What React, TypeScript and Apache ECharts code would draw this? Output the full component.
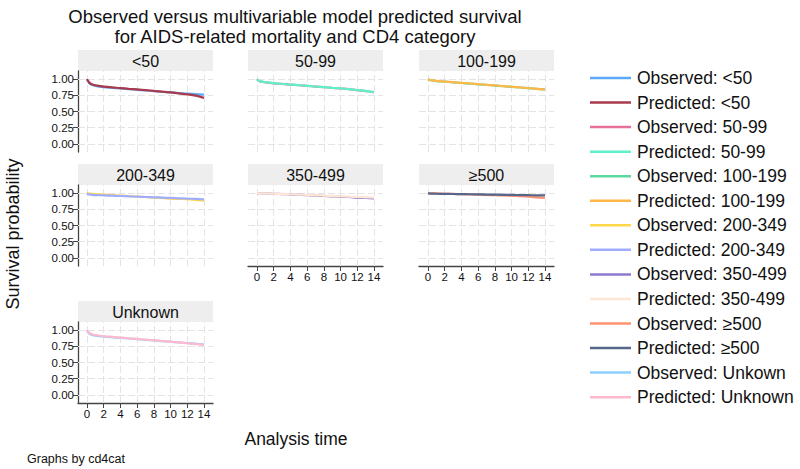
import React, { useEffect, useRef } from "react";
import * as echarts from "echarts";

// Analysis time points (years) at which survival is plotted
const times = [0, 0.1, 0.25, 0.5, 1, 2, 3, 4, 5, 6, 7, 8, 9, 10, 11, 12, 13, 14];

// CD4 categories, one panel each
const categories = ["<50", "50-99", "100-199", "200-349", "350-499", "≥500", "Unknown"];

// Observed (Kaplan-Meier) survival per category
const observedLt50 = [1, 0.97, 0.94, 0.915, 0.895, 0.875, 0.865, 0.855, 0.845, 0.835, 0.825, 0.815, 0.805, 0.795, 0.785, 0.775, 0.768, 0.76];
const observed50to99 = [1, 0.985, 0.97, 0.96, 0.95, 0.935, 0.925, 0.915, 0.905, 0.895, 0.885, 0.875, 0.865, 0.855, 0.845, 0.83, 0.815, 0.8];
const observed100to199 = [1, 0.99, 0.985, 0.98, 0.97, 0.96, 0.95, 0.94, 0.93, 0.92, 0.91, 0.9, 0.89, 0.88, 0.87, 0.86, 0.85, 0.84];
const observed200to349 = [1, 0.998, 0.995, 0.99, 0.985, 0.975, 0.97, 0.96, 0.955, 0.945, 0.94, 0.93, 0.925, 0.915, 0.91, 0.905, 0.895, 0.885];
const observed350to499 = [1, 0.999, 0.998, 0.997, 0.995, 0.99, 0.985, 0.98, 0.975, 0.97, 0.96, 0.955, 0.95, 0.945, 0.94, 0.93, 0.925, 0.92];
const observedGe500 = [1, 0.999, 0.998, 0.997, 0.995, 0.99, 0.987, 0.983, 0.98, 0.976, 0.972, 0.968, 0.963, 0.958, 0.952, 0.945, 0.935, 0.925];
const observedUnknown = [1, 0.97, 0.95, 0.93, 0.915, 0.9, 0.89, 0.88, 0.87, 0.86, 0.85, 0.84, 0.83, 0.82, 0.81, 0.8, 0.79, 0.78];

// Multivariable model predicted survival per category
const predictedLt50 = [1, 0.975, 0.95, 0.925, 0.905, 0.885, 0.872, 0.862, 0.85, 0.84, 0.83, 0.818, 0.806, 0.794, 0.78, 0.765, 0.745, 0.71];
const predicted50to99 = [1, 0.985, 0.972, 0.962, 0.952, 0.937, 0.926, 0.916, 0.906, 0.896, 0.886, 0.876, 0.866, 0.856, 0.845, 0.832, 0.817, 0.795];
const predicted100to199 = [1, 0.992, 0.986, 0.98, 0.972, 0.962, 0.952, 0.942, 0.932, 0.922, 0.912, 0.902, 0.892, 0.882, 0.872, 0.861, 0.85, 0.838];
const predicted200to349 = [1, 0.985, 0.978, 0.975, 0.97, 0.965, 0.96, 0.955, 0.95, 0.945, 0.94, 0.935, 0.93, 0.925, 0.92, 0.915, 0.91, 0.905];
const predicted350to499 = [1, 0.999, 0.998, 0.997, 0.995, 0.991, 0.987, 0.982, 0.977, 0.972, 0.966, 0.961, 0.956, 0.951, 0.946, 0.94, 0.935, 0.93];
const predictedGe500 = [1, 0.995, 0.993, 0.992, 0.99, 0.988, 0.986, 0.984, 0.982, 0.98, 0.978, 0.976, 0.974, 0.972, 0.97, 0.968, 0.966, 0.964];
const predictedUnknown = [1, 0.975, 0.96, 0.94, 0.925, 0.905, 0.895, 0.885, 0.874, 0.864, 0.853, 0.843, 0.832, 0.821, 0.81, 0.798, 0.785, 0.77];

const observedSeries = [observedLt50, observed50to99, observed100to199, observed200to349, observed350to499, observedGe500, observedUnknown];
const predictedSeries = [predictedLt50, predicted50to99, predicted100to199, predicted200to349, predicted350to499, predictedGe500, predictedUnknown];

// Legend labels, as printed
const observedNames = ["Observed: <50", "Observed: 50-99", "Observed: 100-199", "Observed: 200-349", "Observed: 350-499", "Observed: ≥500", "Observed: Unkown"];
const predictedNames = ["Predicted: <50", "Predicted: 50-99", "Predicted: 100-199", "Predicted: 200-349", "Predicted: 350-499", "Predicted: ≥500", "Predicted: Unknown"];

const observedColors = ["#5ea8f8", "#e8709a", "#5cd8a0", "#ffd84a", "#8c78d0", "#ff9070", "#8ed0ff"];
const predictedColors = ["#a83a4c", "#5ef0c8", "#ffb848", "#a0acff", "#ffe6d4", "#56678a", "#ffb8cc"];

// Axis ticks
const yTicks = [0, 0.25, 0.5, 0.75, 1];
const xTicks = [0, 2, 4, 6, 8, 10, 12, 14];

const FONT = "'Liberation Sans', Arial, Helvetica, sans-serif";

// Panel layout: 3 columns, 3 rows
const colLeft = [78, 248, 419];
const rowTop = [71, 185, 322];
const panelW = 135;
const panelH = 81;
const stripH = 21;

export default function App() {
  const ref = useRef<HTMLDivElement>(null);

  useEffect(() => {
    if (!ref.current) return;
    const chart = echarts.init(ref.current, null, { renderer: "svg" });

    const grids: any[] = [];
    const xAxes: any[] = [];
    const yAxes: any[] = [];
    const series: any[] = [];
    const graphics: any[] = [];

    categories.forEach((cat, i) => {
      const col = i % 3;
      const row = Math.floor(i / 3);
      const left = colLeft[col];
      const top = rowTop[row];
      const showY = col === 0;
      // bottom-most panel in each column carries the time axis
      const showX = i >= 4;

      grids.push({ left, top, width: panelW, height: panelH, containLabel: false });

      xAxes.push({
        type: "value",
        gridIndex: i,
        min: -1.08,
        max: 15.08,
        axisLine: { show: showX, onZero: false, lineStyle: { color: "#444", width: 1.3 } },
        axisTick: { show: showX, customValues: xTicks, length: 5, lineStyle: { color: "#444", width: 1 } },
        axisLabel: {
          show: showX,
          customValues: xTicks,
          color: "#111",
          fontFamily: FONT,
          fontSize: 11.5,
          margin: 5,
        },
        splitLine: { show: false },
      });

      yAxes.push({
        type: "value",
        gridIndex: i,
        min: -0.125,
        max: 1.125,
        axisLine: { show: showY, onZero: false, lineStyle: { color: "#444", width: 1.3 } },
        axisTick: { show: showY, customValues: yTicks, length: 5, lineStyle: { color: "#444", width: 1 } },
        axisLabel: {
          show: showY,
          customValues: yTicks,
          formatter: (v: number) => v.toFixed(2),
          color: "#111",
          fontFamily: FONT,
          fontSize: 11.5,
          margin: 4,
        },
        splitLine: { show: false },
      });

      // light dashed reference grid
      series.push({
        type: "line",
        name: "grid" + i,
        xAxisIndex: i,
        yAxisIndex: i,
        data: [],
        silent: true,
        z: 1,
        markLine: {
          silent: true,
          symbol: "none",
          z: 1,
          label: { show: false },
          lineStyle: { color: "#e4e4e4", width: 1, type: [7, 3] },
          emphasis: { disabled: true },
          data: [
            ...yTicks.map((v) => ({ yAxis: v })),
            ...xTicks.map((v) => ({ xAxis: v })),
          ],
        },
      });

      series.push({
        type: "line",
        name: observedNames[i],
        xAxisIndex: i,
        yAxisIndex: i,
        data: times.map((t, k) => [t, observedSeries[i][k]]),
        showSymbol: false,
        smooth: 0.3,
        z: 3,
        color: observedColors[i],
        lineStyle: { width: 2.2, color: observedColors[i] },
      });
      series.push({
        type: "line",
        name: predictedNames[i],
        xAxisIndex: i,
        yAxisIndex: i,
        data: times.map((t, k) => [t, predictedSeries[i][k]]),
        showSymbol: false,
        smooth: 0.3,
        z: 4,
        color: predictedColors[i],
        lineStyle: { width: 2.2, color: predictedColors[i] },
      });

      // panel header strip
      graphics.push({
        type: "rect",
        shape: { x: left, y: top - stripH, width: panelW, height: stripH },
        style: { fill: "#eeeeee" },
        silent: true,
        z: 0,
      });
      graphics.push({
        type: "text",
        x: left + panelW / 2,
        y: top - stripH / 2 + 1,
        style: {
          text: cat,
          fontFamily: FONT,
          fontSize: 16,
          fill: "#111",
          align: "center",
          verticalAlign: "middle",
        },
        silent: true,
        z: 1,
      });
    });

    const legendNames: string[] = [];
    categories.forEach((_, i) => {
      legendNames.push(observedNames[i], predictedNames[i]);
    });

    graphics.push(
      {
        type: "text",
        x: 13,
        y: 234,
        rotation: Math.PI / 2,
        style: {
          text: "Survival probability",
          fontFamily: FONT,
          fontSize: 18,
          fill: "#111",
          align: "center",
          verticalAlign: "middle",
        },
      },
      {
        type: "text",
        x: 296,
        y: 439,
        style: {
          text: "Analysis time",
          fontFamily: FONT,
          fontSize: 17.5,
          fill: "#111",
          align: "center",
          verticalAlign: "middle",
        },
      },
      {
        type: "text",
        x: 27,
        y: 459,
        style: {
          text: "Graphs by cd4cat",
          fontFamily: FONT,
          fontSize: 12.5,
          fill: "#111",
          align: "left",
          verticalAlign: "middle",
        },
      }
    );

    chart.setOption({
      animation: false,
      backgroundColor: "#ffffff",
      title: {
        text: "Observed versus multivariable model predicted survival\nfor AIDS-related mortality and CD4 category",
        left: 290,
        top: 1,
        textAlign: "center",
        textStyle: {
          fontFamily: FONT,
          fontSize: 18.5,
          fontWeight: "normal",
          color: "#111",
          lineHeight: 20,
        },
      },
      legend: {
        data: legendNames,
        orient: "vertical",
        left: 585,
        top: 63,
        icon: "rect",
        itemWidth: 41,
        itemHeight: 2.5,
        itemGap: 4.55,
        selectedMode: false,
        textStyle: {
          fontFamily: FONT,
          fontSize: 17.5,
          color: "#111",
          lineHeight: 20,
          padding: [0, 0, 0, 1],
        },
      },
      grid: grids,
      xAxis: xAxes,
      yAxis: yAxes,
      series,
      graphic: graphics,
    });

    return () => chart.dispose();
  }, []);

  return (
    <div
      ref={ref}
      style={{ position: "fixed", left: 0, top: 0, width: 800, height: 469 }}
    />
  );
}
